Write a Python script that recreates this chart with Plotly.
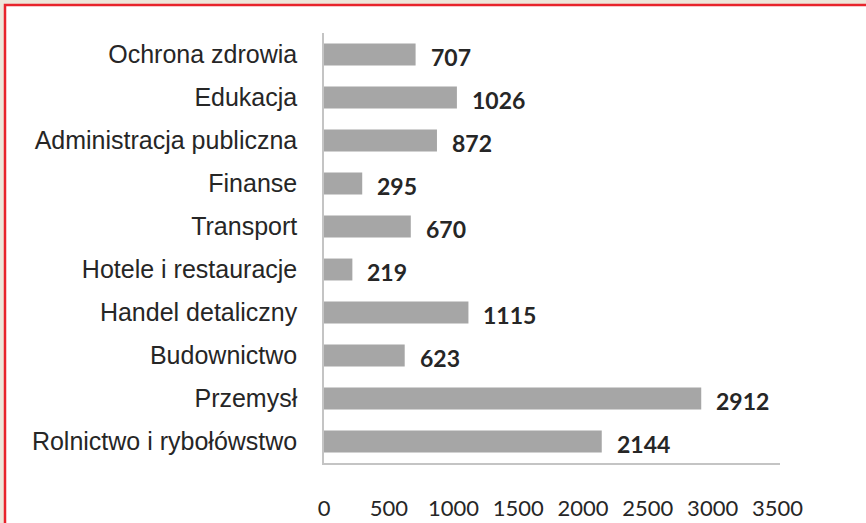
import plotly.graph_objects as go

categories = ["Ochrona zdrowia", "Edukacja", "Administracja publiczna", "Finanse",
              "Transport", "Hotele i restauracje", "Handel detaliczny", "Budownictwo",
              "Przemysł", "Rolnictwo i rybołówstwo"]
values = [707, 1026, 872, 295, 670, 219, 1115, 623, 2912, 2144]
x_ticks = [0, 500, 1000, 1500, 2000, 2500, 3000, 3500]

W, H = 866, 523
L, R, T, B = 324, 780, 33, 463
pw, ph = R - L, B - T

def px(x):
    return (x - L) / pw

def py(y):
    return (B - y) / ph

fig = go.Figure()
fig.add_trace(go.Bar(
    x=values, y=categories, orientation="h",
    marker=dict(color="#a6a6a6", line=dict(width=0)),
    hoverinfo="skip",
))

for v, c in zip(values, categories):
    fig.add_annotation(x=v, y=c, xref="x", yref="y", text=str(v),
                       showarrow=False, xanchor="left", xshift=13, yshift=-2,
                       font=dict(family="Lato", size=23, color="#262626", weight="bold"))

# frame: white card with red top/left border on beige background
fig.add_shape(type="rect", xref="paper", yref="paper",
              x0=px(5), x1=px(W + 20), y0=py(H + 20), y1=py(5),
              fillcolor="#ffffff", line=dict(color="#e8242c", width=2.5), layer="below")

fig.update_layout(
    template="none",
    width=W, height=H,
    margin=dict(l=L, r=W - R, t=T, b=H - B, pad=0),
    paper_bgcolor="#eee6da", plot_bgcolor="rgba(0,0,0,0)",
    bargap=0.49, showlegend=False,
    xaxis=dict(range=[0, 3520], tickvals=x_ticks, ticktext=[str(t) for t in x_ticks],
               automargin=False,
               showgrid=False, zeroline=False, showline=True, linecolor="#c4c4c4", linewidth=1.5,
               ticks="", ticklabelstandoff=25,
               tickfont=dict(family="Lato", size=22, color="#262626")),
    yaxis=dict(categoryorder="array", categoryarray=categories, autorange="reversed",
               automargin=False,
               showgrid=False, zeroline=False, showline=True, linecolor="#c4c4c4", linewidth=1.5,
               ticks="", ticklabelstandoff=20,
               tickfont=dict(family="Liberation Sans", size=25, color="#262626")),
)

fig.write_html("out.html", config={"displayModeBar": False},
               post_script="document.body.style.margin='0';document.body.style.padding='0';")
